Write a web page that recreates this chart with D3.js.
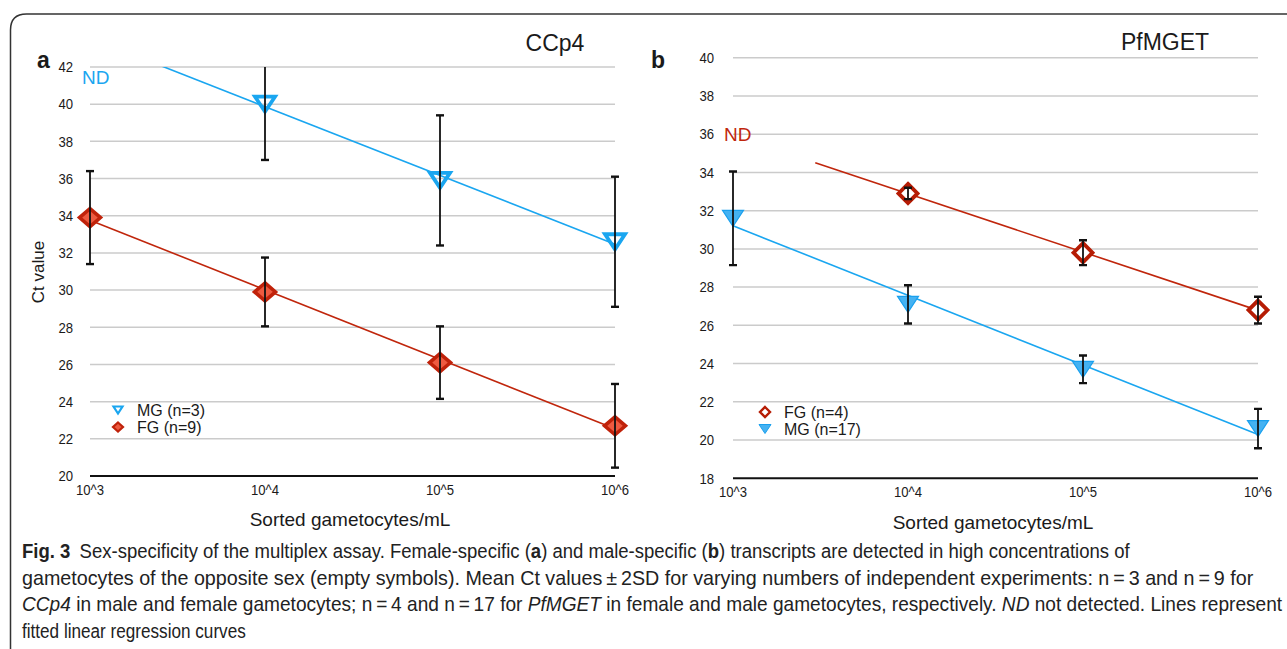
<!DOCTYPE html>
<html>
<head>
<meta charset="utf-8">
<script src="https://cdn.jsdelivr.net/npm/d3@7"></script>
<style>
  html, body { margin: 0; padding: 0; background: #fff; }
  svg { display: block; }
  text { font-family: "Liberation Sans", Arial, sans-serif; fill: #1a1a1a; }
</style>
</head>
<body>
<svg id="chart" width="1287" height="649"></svg>
<script>
// ---------------- DATA ----------------
const xTickValues = [3, 4, 5, 6];                 // log10 gametocytes/mL
const xTickLabels = ["10^3", "10^4", "10^5", "10^6"];

// Panel a: CCp4
const ccp4YTicks = [20, 22, 24, 26, 28, 30, 32, 34, 36, 38, 40, 42];
const ccp4MG_x    = [4, 5, 6];
const ccp4MG_mean = [40.0, 35.9, 32.6];
const ccp4MG_err  = [3.0, 3.5, 3.5];
const ccp4FG_x    = [3, 4, 5, 6];
const ccp4FG_mean = [33.9, 29.9, 26.1, 22.7];
const ccp4FG_err  = [2.5, 1.85, 1.95, 2.25];
const ccp4MG_fitRange = [3.39, 6];
const ccp4FG_fitRange = [3, 6];

// Panel b: PfMGET
const pfYTicks = [18, 20, 22, 24, 26, 28, 30, 32, 34, 36, 38, 40];
const pfFG_x    = [4, 5, 6];
const pfFG_mean = [32.9, 29.8, 26.8];
const pfFG_err  = [0.3, 0.65, 0.7];
const pfMG_x    = [3, 4, 5, 6];
const pfMG_mean = [31.6, 27.1, 23.7, 20.6];
const pfMG_err  = [2.45, 1.0, 0.72, 1.03];
const pfFG_fitRange = [3.47, 6];
const pfMG_fitRange = [3, 6];

// ---------------- STYLE ----------------
const BLUE = "#1aa6f0";
const RED = "#c0260c";

const svg = d3.select("#chart");

// frame
svg.append("path")
  .attr("d", "M10.5,649 V30 Q10.5,14 26.5,14 H1287")
  .attr("fill", "none").attr("stroke", "#333").attr("stroke-width", 1.5);

function linreg(xs, ys) {
  const n = xs.length;
  const mx = d3.mean(xs), my = d3.mean(ys);
  let sxy = 0, sxx = 0;
  for (let i = 0; i < n; i++) { sxy += (xs[i]-mx)*(ys[i]-my); sxx += (xs[i]-mx)*(xs[i]-mx); }
  const b = sxy / sxx;
  return x => my + b * (x - mx);
}

function triDown(cx, cy, w, h) {
  return `M${cx-w/2},${cy-h/2} L${cx+w/2},${cy-h/2} L${cx},${cy+h/2} Z`;
}
function diamond(cx, cy, w, h) {
  return `M${cx},${cy-h/2} L${cx+w/2},${cy} L${cx},${cy+h/2} L${cx-w/2},${cy} Z`;
}

function panel(cfg) {
  const g = svg.append("g");
  const x = d3.scaleLinear().domain([3, 6]).range(cfg.xRange);
  const y = d3.scaleLinear().domain(cfg.yDomain).range(cfg.yRange);

  const clipId = "clip" + cfg.id;
  svg.append("clipPath").attr("id", clipId).append("rect")
    .attr("x", cfg.xRange[0] - 30).attr("y", cfg.yRange[1])
    .attr("width", cfg.xRange[1] - cfg.xRange[0] + 60)
    .attr("height", cfg.yRange[0] - cfg.yRange[1]);

  // gridlines
  g.selectAll(".grid").data(cfg.yTicks.slice(1)).join("line")
    .attr("x1", cfg.xRange[0]).attr("x2", cfg.xRange[1])
    .attr("y1", d => y(d)).attr("y2", d => y(d))
    .attr("stroke", "#cbcbcb").attr("stroke-width", 1.5);
  // x axis line
  g.append("line")
    .attr("x1", cfg.xRange[0]).attr("x2", cfg.xRange[1])
    .attr("y1", y(cfg.yDomain[0])).attr("y2", y(cfg.yDomain[0]))
    .attr("stroke", "#111").attr("stroke-width", 2);

  // y tick labels
  g.selectAll(".yl").data(cfg.yTicks).join("text")
    .attr("x", cfg.yLabelX).attr("y", d => y(d) + 5.3)
    .attr("text-anchor", "end").attr("font-size", 15)
    .attr("textLength", d => String(d).length * 7.3).attr("lengthAdjust", "spacingAndGlyphs")
    .text(d => d);
  // x tick labels
  g.selectAll(".xl").data(xTickValues).join("text")
    .attr("x", d => x(d)).attr("y", y(cfg.yDomain[0]) + cfg.xLabelDy)
    .attr("text-anchor", "middle").attr("font-size", 14.5)
    .attr("textLength", 28).attr("lengthAdjust", "spacingAndGlyphs")
    .text((d, i) => xTickLabels[i]);

  // axis title
  g.append("text").attr("x", cfg.xTitle[0]).attr("y", cfg.xTitle[1])
    .attr("text-anchor", "middle").attr("font-size", 19).text("Sorted gametocytes/mL");
  // chart title
  g.append("text").attr("x", cfg.title[0]).attr("y", cfg.title[1])
    .attr("text-anchor", "middle").attr("font-size", 23).text(cfg.titleText);
  // panel letter
  g.append("text").attr("x", cfg.letter[0]).attr("y", cfg.letter[1])
    .attr("font-size", 23).attr("font-weight", "bold").text(cfg.letterText);
  // ND
  g.append("text").attr("x", cfg.nd[0]).attr("y", cfg.nd[1])
    .attr("font-size", 19).style("fill", cfg.ndColor).text("ND");

  const plot = g.append("g").attr("clip-path", `url(#${clipId})`);

  // regression lines
  cfg.series.forEach(s => {
    const f = linreg(s.x, s.mean);
    plot.append("line")
      .attr("x1", x(s.fit[0])).attr("y1", y(f(s.fit[0])))
      .attr("x2", x(s.fit[1])).attr("y2", y(f(s.fit[1])))
      .attr("stroke", s.color).attr("stroke-width", 1.6);
  });
  // markers
  cfg.series.forEach(s => {
    plot.selectAll(null).data(s.x).join("path")
      .attr("d", (d, i) => s.shape(x(d), y(s.mean[i])))
      .attr("fill", s.fill).attr("stroke", s.stroke)
      .attr("stroke-width", s.sw).attr("stroke-linejoin", "miter");
  });
  // error bars
  cfg.series.forEach(s => {
    s.x.forEach((d, i) => {
      const cx = x(d), top = y(s.mean[i] + s.err[i]), bot = y(s.mean[i] - s.err[i]);
      plot.append("line").attr("x1", cx).attr("x2", cx).attr("y1", top).attr("y2", bot)
        .attr("stroke", "#111").attr("stroke-width", 1.8);
      [top, bot].forEach(yy => plot.append("line")
        .attr("x1", cx - 4).attr("x2", cx + 4).attr("y1", yy).attr("y2", yy)
        .attr("stroke", "#111").attr("stroke-width", 2.4));
    });
  });

  // legend
  cfg.legend.forEach((l, i) => {
    const ly = cfg.legendPos[1] + i * 17;
    g.append("path").attr("d", l.shape(cfg.legendPos[0], ly))
      .attr("fill", l.fill).attr("stroke", l.stroke).attr("stroke-width", l.sw);
    g.append("text").attr("x", cfg.legendPos[0] + 19).attr("y", ly + 6)
      .attr("font-size", 16).text(l.label);
  });
}

// Panel a
panel({
  id: "a", xRange: [90, 615], yDomain: [20, 42], yRange: [476, 67],
  yTicks: ccp4YTicks, yLabelX: 73, xLabelDy: 19,
  xTitle: [350, 526], title: [555, 51], titleText: "CCp4",
  letter: [37, 68], letterText: "a",
  nd: [82, 84], ndColor: BLUE,
  series: [
    { x: ccp4MG_x, mean: ccp4MG_mean, err: ccp4MG_err, fit: ccp4MG_fitRange, color: BLUE,
      shape: (cx, cy) => triDown(cx, cy, 20, 15), fill: "none", stroke: BLUE, sw: 3.8 },
    { x: ccp4FG_x, mean: ccp4FG_mean, err: ccp4FG_err, fit: ccp4FG_fitRange, color: RED,
      shape: (cx, cy) => diamond(cx, cy, 21, 18), fill: "#ee5a40", stroke: "#c0220a", sw: 3.5 }
  ],
  legendPos: [118, 410],
  legend: [
    { label: "MG (n=3)", shape: (cx, cy) => triDown(cx, cy, 9, 7), fill: "#fff", stroke: BLUE, sw: 2.2 },
    { label: "FG (n=9)", shape: (cx, cy) => diamond(cx, cy, 10, 9), fill: "#ee5a40", stroke: "#c0220a", sw: 2.2 }
  ]
});
svg.append("text").attr("transform", "translate(44,272) rotate(-90)")
  .attr("text-anchor", "middle").attr("font-size", 17).text("Ct value");

// Panel b
panel({
  id: "b", xRange: [733, 1258], yDomain: [18, 40], yRange: [478.3, 57.7],
  yTicks: pfYTicks, yLabelX: 714, xLabelDy: 19,
  xTitle: [993, 529], title: [1165, 50], titleText: "PfMGET",
  letter: [651, 68], letterText: "b",
  nd: [724, 141], ndColor: RED,
  series: [
    { x: pfMG_x, mean: pfMG_mean, err: pfMG_err, fit: pfMG_fitRange, color: BLUE,
      shape: (cx, cy) => triDown(cx, cy, 21, 16), fill: "#45b2f2", stroke: "#1aa0ee", sw: 1.2 },
    { x: pfFG_x, mean: pfFG_mean, err: pfFG_err, fit: pfFG_fitRange, color: RED,
      shape: (cx, cy) => diamond(cx, cy, 19, 19), fill: "#fff", stroke: "#b61c04", sw: 3.8 }
  ],
  legendPos: [765, 412],
  legend: [
    { label: "FG (n=4)", shape: (cx, cy) => diamond(cx, cy, 10, 10), fill: "#fff", stroke: "#b61c04", sw: 2.4 },
    { label: "MG (n=17)", shape: (cx, cy) => triDown(cx, cy, 12, 9), fill: "#45b2f2", stroke: "#1aa0ee", sw: 1 }
  ]
});

// ---------------- CAPTION ----------------
const captionLines = [
  [["Fig. 3", "b"], ["\u2002Sex-specificity of the multiplex assay. Female-specific (", ""], ["a", "b"],
   [") and male-specific (", ""], ["b", "b"], [") transcripts are detected in high concentrations of", ""]],
  [["gametocytes of the opposite sex (empty symbols). Mean Ct values\u2009\u00b1\u20092SD for varying numbers of independent experiments: n\u2009=\u20093 and n\u2009=\u20099 for", ""]],
  [["CCp4", "i"], [" in male and female gametocytes; n\u2009=\u20094 and n\u2009=\u200917 for ", ""], ["PfMGET", "i"],
   [" in female and male gametocytes, respectively. ", ""], ["ND", "i"], [" not detected. Lines represent", ""]],
  [["fitted linear regression curves", ""]]
];
const captionRight = [1130, 1254, 1283, 246];
const captionBase = [558, 585, 611, 638];
const capX = 22;
captionLines.forEach((parts, i) => {
  const t = svg.append("text").attr("x", 0).attr("y", 0)
    .attr("font-size", 20)
    .style("font-family", "'Liberation Sans Narrow', 'Liberation Sans', sans-serif")
    .style("fill", "#222");
  parts.forEach(([txt, st]) => {
    const sp = t.append("tspan").text(txt);
    if (st === "b") sp.attr("font-weight", "bold");
    if (st === "i") sp.attr("font-style", "italic");
  });
  const w = t.node().getComputedTextLength();
  const sx = (captionRight[i] - capX) / w;
  t.attr("transform", `translate(${capX},${captionBase[i]}) scale(${sx},1)`);
});
</script>
</body>
</html>
